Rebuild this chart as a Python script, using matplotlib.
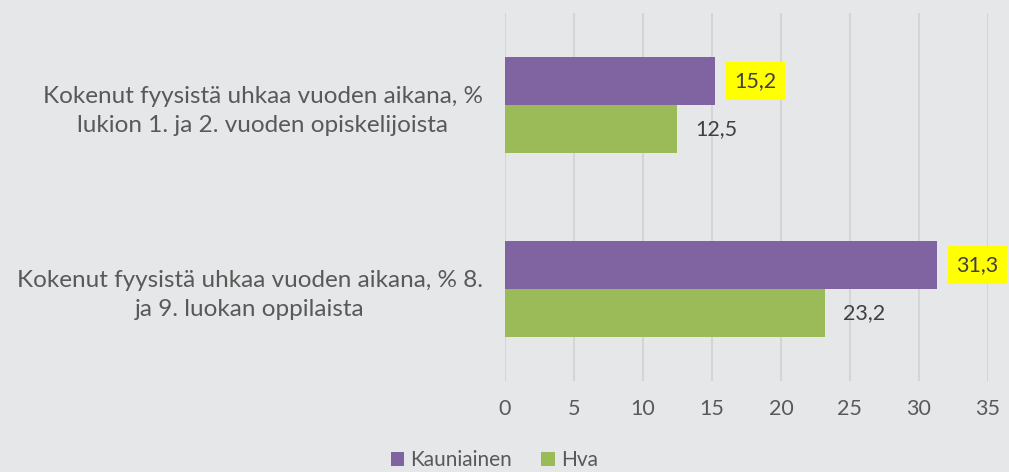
import numpy as np
import matplotlib
matplotlib.use("Agg")
import matplotlib.pyplot as plt

# data
categories = [
    "Kokenut fyysistä uhkaa vuoden aikana, %\nlukion 1. ja 2. vuoden opiskelijoista",
    "Kokenut fyysistä uhkaa vuoden aikana, % 8.\nja 9. luokan oppilaista",
]
series_names = ["Kauniainen", "Hva"]
kauniainen = [15.2, 31.3]
hva = [12.5, 23.2]
xticks = [0, 5, 10, 15, 20, 25, 30, 35]

BG = "#e6e7e8"
PURPLE = "#8064a2"
GREEN = "#9bbb59"
GRID = "#d4d5d6"
TXT = "#595959"
LBL = "#404040"

plt.rcParams["font.family"] = ["Lato", "DejaVu Sans"]

fig = plt.figure(figsize=(10.09, 4.72), dpi=100, facecolor=BG)
ax = fig.add_axes([0.5005, 0.1928, 0.4785, 0.7797], facecolor=BG)

y = np.arange(len(categories))
h = 0.26
bars_k = ax.barh(y - h / 2, kauniainen, height=h, color=PURPLE, label=series_names[0], zorder=3)
bars_h = ax.barh(y + h / 2, hva, height=h, color=GREEN, label=series_names[1], zorder=3)

def fmt(v):
    return f"{v:.1f}".replace(".", ",")

for b, v in zip(bars_k, kauniainen):
    ax.annotate(fmt(v), (b.get_width(), b.get_y() + b.get_height() / 2),
                xytext=(14, 0), textcoords="offset points", va="center", ha="left",
                fontsize=15.5, color=LBL, zorder=4, annotation_clip=False,
                bbox=dict(boxstyle="square,pad=0.4", fc="#ffff00", ec="none"))
for b, v in zip(bars_h, hva):
    ax.annotate(fmt(v), (b.get_width(), b.get_y() + b.get_height() / 2),
                xytext=(13, 0), textcoords="offset points", va="center", ha="left",
                fontsize=15.5, color=LBL, zorder=4, annotation_clip=False)

ax.set_xlim(0, 35)
ax.set_ylim(len(categories) - 0.5, -0.5)
ax.set_xticks(xticks)
ax.set_xticklabels([str(t) for t in xticks], fontsize=15.5, color=TXT)
ax.set_yticks(y)
ax.set_yticklabels(categories, fontsize=17.5, color=TXT, multialignment="center",
                   linespacing=1.45)
ax.tick_params(axis="both", length=0)
ax.tick_params(axis="x", pad=13)
ax.tick_params(axis="y", pad=16)
ax.grid(axis="x", color=GRID, linewidth=1.5, zorder=0)
for s in ax.spines.values():
    s.set_visible(False)

leg = fig.legend(handles=[bars_k, bars_h], labels=series_names, loc="center",
                 bbox_to_anchor=(0.49, 0.025), ncol=2, frameon=False,
                 fontsize=15, handlelength=0.65, handleheight=0.65,
                 handletextpad=0.3, columnspacing=1.4, borderpad=0.1)
for t in leg.get_texts():
    t.set_color(TXT)

fig.savefig("out.png", dpi=100, facecolor=BG)
